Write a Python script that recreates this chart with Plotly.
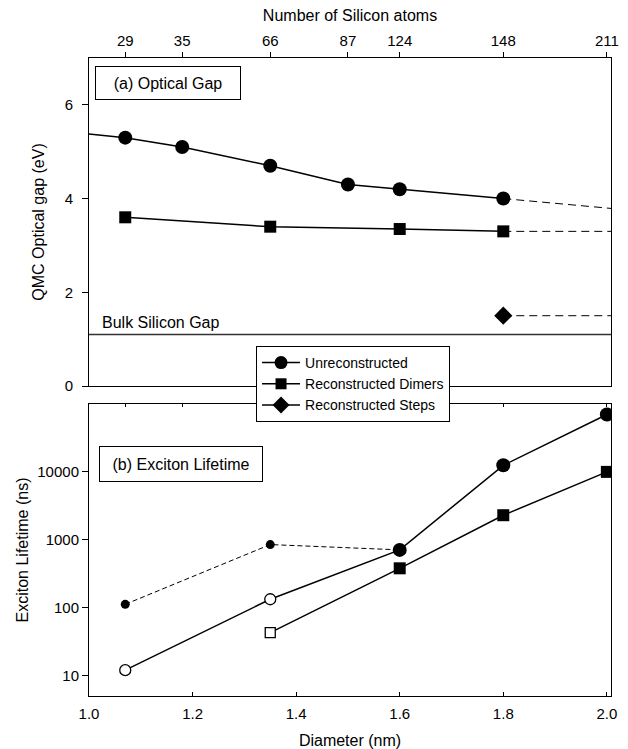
import plotly.graph_objects as go
import numpy as np

# ---- top axis: number of silicon atoms and their diameters (nm)
atoms = [29, 35, 66, 87, 124, 148, 211]
atom_diam = [1.07, 1.18, 1.35, 1.50, 1.60, 1.80, 2.00]

# ---- panel (a): QMC optical gap (eV)
unrec_gap_x = [1.07, 1.18, 1.35, 1.50, 1.60, 1.80]
unrec_gap = [5.30, 5.10, 4.70, 4.30, 4.20, 4.00]
unrec_gap_left = 5.38      # solid trend continued to the left edge
unrec_gap_extrap = 3.79    # dashed extrapolation to the right edge
dimer_gap_x = [1.07, 1.35, 1.60, 1.80]
dimer_gap = [3.60, 3.40, 3.35, 3.30]
dimer_gap_extrap = 3.30
step_gap_x = [1.80]
step_gap = [1.50]
step_gap_extrap = 1.50
bulk_gap = 1.10

# ---- panel (b): exciton lifetime (ns)
life_unrec_x = [1.07, 1.35, 1.60, 1.80, 2.00]
life_unrec = [12, 133, 710, 12500, 70000]
life_unrec_open = [True, True, False, False, False]
life_unrec_alt_x = [1.07, 1.35, 1.60]
life_unrec_alt = [112, 850, 710]
life_dimer_x = [1.35, 1.60, 1.80, 2.00]
life_dimer = [43, 380, 2300, 10000]
life_dimer_open = [True, False, False, False]

X0, X1 = 1.0, 2.008
FONT = "Liberation Sans, Arial, sans-serif"
BLACK = "black"


def pick(vals, flags, want):
    return [v for v, f in zip(vals, flags) if f == want]


fig = go.Figure()

# ---------- panel (a)
fig.add_trace(go.Scatter(x=[X0, X1], y=[bulk_gap, bulk_gap], mode="lines",
                         line=dict(color="#333", width=1.5), xaxis="x2", yaxis="y2",
                         showlegend=False, hoverinfo="skip"))
fig.add_trace(go.Scatter(x=[X0] + unrec_gap_x, y=[unrec_gap_left] + unrec_gap, mode="lines",
                         line=dict(color=BLACK, width=1.5), xaxis="x2", yaxis="y2", showlegend=False))
fig.add_trace(go.Scatter(x=[unrec_gap_x[-1], X1], y=[unrec_gap[-1], unrec_gap_extrap], mode="lines",
                         line=dict(color=BLACK, width=1, dash="8px,5px"), xaxis="x2", yaxis="y2", showlegend=False))
fig.add_trace(go.Scatter(x=unrec_gap_x, y=unrec_gap, mode="markers",
                         marker=dict(symbol="circle", size=14, color=BLACK), xaxis="x2", yaxis="y2", showlegend=False))

fig.add_trace(go.Scatter(x=dimer_gap_x, y=dimer_gap, mode="lines",
                         line=dict(color=BLACK, width=1.5), xaxis="x2", yaxis="y2", showlegend=False))
fig.add_trace(go.Scatter(x=[dimer_gap_x[-1], X1], y=[dimer_gap[-1], dimer_gap_extrap], mode="lines",
                         line=dict(color=BLACK, width=1, dash="8px,5px"), xaxis="x2", yaxis="y2", showlegend=False))
fig.add_trace(go.Scatter(x=dimer_gap_x, y=dimer_gap, mode="markers",
                         marker=dict(symbol="square", size=12, color=BLACK), xaxis="x2", yaxis="y2", showlegend=False))

fig.add_trace(go.Scatter(x=[step_gap_x[-1], X1], y=[step_gap[-1], step_gap_extrap], mode="lines",
                         line=dict(color=BLACK, width=1, dash="8px,5px"), xaxis="x2", yaxis="y2", showlegend=False))
fig.add_trace(go.Scatter(x=step_gap_x, y=step_gap, mode="markers",
                         marker=dict(symbol="diamond", size=14, color=BLACK), xaxis="x2", yaxis="y2", showlegend=False))

# ---------- panel (b)
fig.add_trace(go.Scatter(x=life_unrec_alt_x, y=life_unrec_alt, mode="lines",
                         line=dict(color=BLACK, width=1, dash="5px,3px"), showlegend=False))
fig.add_trace(go.Scatter(x=life_unrec_alt_x[:2], y=life_unrec_alt[:2], mode="markers",
                         marker=dict(symbol="circle", size=9, color=BLACK), showlegend=False))
fig.add_trace(go.Scatter(x=life_unrec_x, y=life_unrec, mode="lines",
                         line=dict(color=BLACK, width=1.5), showlegend=False))
fig.add_trace(go.Scatter(x=pick(life_unrec_x, life_unrec_open, True),
                         y=pick(life_unrec, life_unrec_open, True), mode="markers",
                         marker=dict(symbol="circle", size=11, color="white",
                                     line=dict(color=BLACK, width=1.3)), showlegend=False))
fig.add_trace(go.Scatter(x=pick(life_unrec_x, life_unrec_open, False),
                         y=pick(life_unrec, life_unrec_open, False), mode="markers",
                         marker=dict(symbol="circle", size=14, color=BLACK), showlegend=False))
fig.add_trace(go.Scatter(x=life_dimer_x, y=life_dimer, mode="lines",
                         line=dict(color=BLACK, width=1.5), showlegend=False))
fig.add_trace(go.Scatter(x=pick(life_dimer_x, life_dimer_open, True),
                         y=pick(life_dimer, life_dimer_open, True), mode="markers",
                         marker=dict(symbol="square", size=10, color="white",
                                     line=dict(color=BLACK, width=1.3)), showlegend=False))
fig.add_trace(go.Scatter(x=pick(life_dimer_x, life_dimer_open, False),
                         y=pick(life_dimer, life_dimer_open, False), mode="markers",
                         marker=dict(symbol="square", size=12, color=BLACK), showlegend=False))

# ---------- legend-only traces
for name, sym, sz in [("Unreconstructed", "circle", 13),
                      ("Reconstructed Dimers", "square", 11),
                      ("Reconstructed Steps", "diamond", 13)]:
    fig.add_trace(go.Scatter(x=[None], y=[None], mode="lines+markers", name=name,
                             line=dict(color=BLACK, width=1.5),
                             marker=dict(symbol=sym, size=sz, color=BLACK)))

# ---------- overlay axis for top ticks of panel (b)
fig.add_trace(go.Scatter(x=[None], y=[None], xaxis="x3", yaxis="y", showlegend=False))

axis_common = dict(showgrid=False, zeroline=False, showline=True, linecolor=BLACK, linewidth=1,
                   automargin=False,
                   tickcolor=BLACK, tickfont=dict(family=FONT, size=15, color=BLACK))

fig.update_layout(
    width=628, height=749,
    margin=dict(l=89, r=17, t=58, b=53),
    paper_bgcolor="white", plot_bgcolor="white",
    font=dict(family=FONT, size=15, color=BLACK),
    xaxis=dict(axis_common, domain=[0, 1], anchor="y", range=[X0, X1],
               tickvals=[1.0, 1.2, 1.4, 1.6, 1.8, 2.0], ticktext=["1.0", "1.2", "1.4", "1.6", "1.8", "2.0"],
               ticks="inside", ticklen=4, ticklabelstandoff=4,
               title=dict(text="Diameter (nm)", font=dict(family=FONT, size=16), standoff=13)),
    xaxis3=dict(axis_common, overlaying="x", anchor="y", side="top", range=[X0, X1],
                tickvals=atom_diam, ticks="inside", ticklen=3, showticklabels=False),
    yaxis=dict(axis_common, domain=[0, 0.4577], type="log", range=[np.log10(5), 5],
               tickvals=[10, 100, 1000, 10000], ticktext=["10", "100", "1000", "10000"],
               ticks="outside", ticklen=6, mirror=True,
               title=dict(text="Exciton Lifetime (ns)", font=dict(family=FONT, size=16), standoff=4)),
    xaxis2=dict(axis_common, anchor="y2", side="top", range=[X0, X1], mirror=True,
                tickvals=atom_diam, ticktext=[str(a) for a in atoms],
                ticks="outside", ticklen=5,
                title=dict(text="Number of Silicon atoms", font=dict(family=FONT, size=16), standoff=6)),
    yaxis2=dict(axis_common, domain=[0.4859, 1], anchor="x2", range=[0, 7],
                tickvals=[0, 2, 4, 6], ticks="outside", ticklen=6, mirror=True, ticklabelstandoff=6,
                title=dict(text="QMC Optical gap (eV)", font=dict(family=FONT, size=16), standoff=16)),
    legend=dict(x=0.32, y=0.5486, xanchor="left", yanchor="top",
                bgcolor="white", bordercolor=BLACK, borderwidth=1, itemwidth=38,
                font=dict(family=FONT, size=14, color=BLACK), tracegroupgap=0),
    showlegend=True,
    annotations=[
        dict(text="Bulk Silicon Gap", xref="paper", yref="y2", x=0.021, y=1.345,
             xanchor="left", yanchor="middle", showarrow=False,
             font=dict(family=FONT, size=16, color=BLACK)),
        dict(text="(a) Optical Gap", xref="paper", yref="paper", x=0.0115, y=0.9875,
             xanchor="left", yanchor="top", showarrow=False, width=130, height=18,
             borderpad=7, bordercolor=BLACK, borderwidth=1, bgcolor="white",
             font=dict(family=FONT, size=16, color=BLACK)),
        dict(text="(b) Exciton Lifetime", xref="paper", yref="paper", x=0.019, y=0.3918,
             xanchor="left", yanchor="top", showarrow=False, width=148, height=20,
             borderpad=7, bordercolor=BLACK, borderwidth=1, bgcolor="white",
             font=dict(family=FONT, size=16, color=BLACK)),
    ],
)

fig.write_html("out.html", config={"displayModeBar": False},
               post_script="document.body.style.margin='0';document.body.style.padding='0';"
                           "document.body.style.overflow='hidden';")
